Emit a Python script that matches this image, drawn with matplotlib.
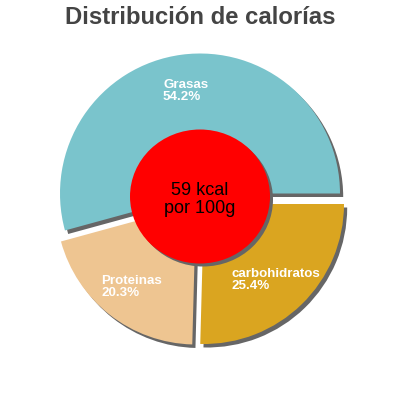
import matplotlib
matplotlib.use('Agg')
import matplotlib.pyplot as plt
from matplotlib.patches import Ellipse

# ---- data ----
title = "Distribución de calorías"
categories = ["Grasas", "Proteinas", "carbohidratos"]
percents = [54.2, 20.3, 25.4]
energy_lines = ["59 kcal", "por 100g"]

# ---- style / layout ----
colors = ["#7AC4CC", "#EEC591", "#DAA520"]
shadow_color = "#666666"
FONT = ["Liberation Sans", "DejaVu Sans"]
H = 400


def Y(py):
    return H - py


fig = plt.figure(figsize=(4, 4), dpi=100)
ax = fig.add_axes([0, 0, 1, 1])

center = (200, Y(193.5))
R = 140
offsets = [(0, 0), (-4, -11), (4, -10.5)]
shadow_off = (3.2, -3.5)

sh_wedges, _ = ax.pie(percents, colors=[shadow_color] * 3, startangle=0,
                      counterclock=True, radius=R, center=center, frame=True,
                      wedgeprops=dict(linewidth=0))
wedges, _ = ax.pie(percents, colors=colors, startangle=0, counterclock=True,
                   radius=R, center=center, frame=True,
                   wedgeprops=dict(linewidth=0))
for (dx, dy), sw, w in zip(offsets, sh_wedges, wedges):
    w.set_center((center[0] + dx, center[1] + dy))
    sw.set_center((center[0] + dx + shadow_off[0], center[1] + dy + shadow_off[1]))

# central disc
cc = (200, Y(196.5))
ax.add_patch(Ellipse((cc[0] + 3, cc[1] - 3), 140, 134, color=shadow_color, lw=0, zorder=5))
ax.add_patch(Ellipse(cc, 140, 134, color="#FF0000", lw=0, zorder=6))
ax.text(200, Y(195), energy_lines[0], ha="center", va="baseline", fontsize=13,
        family=FONT, color="black", zorder=7)
ax.text(200, Y(213), energy_lines[1], ha="center", va="baseline", fontsize=13,
        family=FONT, color="black", zorder=7)

# slice labels
label_pos = [(163, 87.5, 99.5), (101, 284.3, 295.7), (232, 277, 289)]
for cat, p, (lx, b1, b2) in zip(categories, percents, label_pos):
    ax.text(lx, Y(b1), cat, ha="left", va="baseline", fontsize=9.6,
            fontweight="bold", family=FONT, color="white", zorder=4)
    ax.text(lx, Y(b2), f"{p}%", ha="left", va="baseline", fontsize=9.6,
            fontweight="bold", family=FONT, color="white", zorder=4)

# title
ax.text(200, Y(24), title, ha="center", va="baseline", fontsize=17.2,
        fontweight="bold", family=FONT, color="#444444")

ax.set_xlim(0, 400)
ax.set_ylim(0, 400)
ax.set_aspect("auto")
ax.axis("off")

fig.savefig("out.png", dpi=100, facecolor="white")
